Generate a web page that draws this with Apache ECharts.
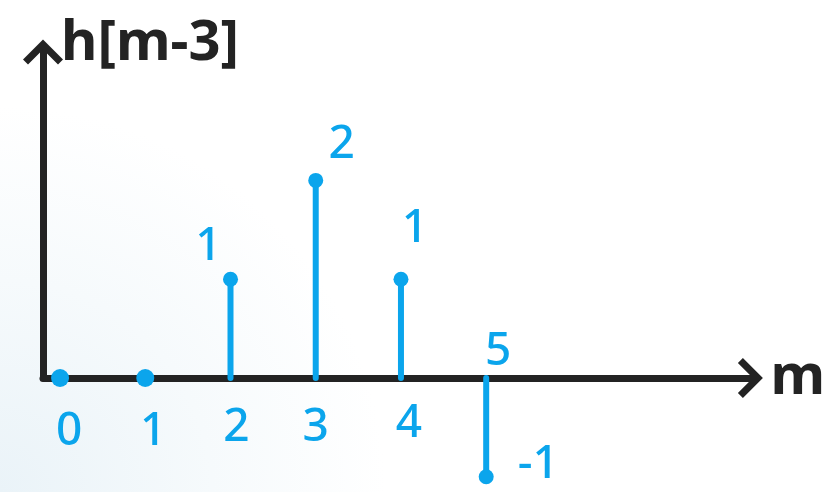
<!DOCTYPE html>
<html lang="en">
<head>
	<meta charset="UTF-8">
	<title>h[m-3]</title>
	<script src="https://cdn.jsdelivr.net/npm/echarts@6/dist/echarts.min.js"></script>
</head>
<style>
	html, body {
		margin: 0;
		padding: 0;
	}
	body {
		background: radial-gradient(circle at 0% 100%, #eaf3f8 0%, #f6fafc 22%, #ffffff 40%);
	}
	#main {
		width: 828px;
		height: 492px;
	}
</style>
<body>
	<div id="main"></div>
	<script>
		// stem plot data
		var mValues = [0, 1, 2, 3, 4, 5];
		var hValues = [0, 0, 1, 2, 1, -1];
		var tickLabels = ['0', '1', '2', '3', '4', '5'];
		var valueLabels = ['', '', '1', '2', '1', '-1'];

		var BLUE = '#0ba5ec';
		var INK = '#232323';
		var FONT = '"Noto Sans", sans-serif';

		// label nudges (pixels) per stem, value label then tick label
		var valueOffsets = [[0, 0], [0, 0], [-22, -32], [26, -36], [14, -50], [52, -12]];
		var tickOffsets = [[9, 54], [8, 54], [6, 50], [0, 50], [8, 46], [12, -26]];

		var chevron = 'path://M20,0 L40,20 L35,25 L20,10 L5,25 L0,20 Z';

		var myChart = echarts.init(document.getElementById('main'));

		function renderStem(params, api) {
			var i = params.dataIndex;
			var m = api.value(0);
			var v = api.value(1);
			var base = api.coord([m, 0]);
			var tip = api.coord([m, v]);
			var children = [];
			if (v !== 0) {
				children.push({
					type: 'line',
					shape: { x1: base[0], y1: base[1], x2: tip[0], y2: tip[1] },
					style: { stroke: BLUE, lineWidth: 6, lineCap: 'round' }
				});
			}
			children.push({
				type: 'circle',
				shape: { cx: tip[0], cy: tip[1], r: v === 0 ? 9 : 7.5 },
				style: { fill: BLUE }
			});
			if (valueLabels[i]) {
				children.push({
					type: 'text',
					style: {
						text: valueLabels[i],
						x: tip[0] + valueOffsets[i][0],
						y: tip[1] + valueOffsets[i][1],
						fill: BLUE,
						font: '500 46px ' + FONT,
						align: 'center',
						verticalAlign: 'middle'
					}
				});
			}
			children.push({
				type: 'text',
				style: {
					text: tickLabels[i],
					x: base[0] + tickOffsets[i][0],
					y: base[1] + tickOffsets[i][1],
					fill: BLUE,
					font: '500 46px ' + FONT,
					align: 'center',
					verticalAlign: 'middle'
				}
			});
			return { type: 'group', children: children };
		}

		var option = {
			animation: false,
			grid: {
				left: 43,
				right: 64,
				top: 52,
				bottom: 114
			},
			xAxis: {
				type: 'value',
				min: -0.2,
				max: 8.1,
				name: 'm',
				nameLocation: 'end',
				nameGap: 20,
				nameTextStyle: {
					color: INK,
					fontFamily: FONT,
					fontWeight: 'bold',
					fontSize: 56,
					verticalAlign: 'middle',
					padding: [0, 0, 12, 0]
				},
				axisLine: {
					onZero: false,
					symbol: ['none', chevron],
					symbolSize: [40, 25],
					lineStyle: { color: INK, width: 7, cap: 'round' }
				},
				axisTick: { show: false },
				axisLabel: { show: false },
				splitLine: { show: false }
			},
			yAxis: {
				type: 'value',
				min: 0,
				max: 3.3,
				name: 'h[m-3]',
				nameLocation: 'end',
				nameGap: 8,
				nameTextStyle: {
					color: INK,
					fontFamily: FONT,
					fontWeight: 'bold',
					fontSize: 56,
					align: 'left',
					verticalAlign: 'middle',
					padding: [0, 0, 0, 18]
				},
				axisLine: {
					show: true,
					onZero: false,
					symbol: ['none', chevron],
					symbolSize: [40, 25],
					lineStyle: { color: INK, width: 7, cap: 'round' }
				},
				axisTick: { show: false },
				axisLabel: { show: false },
				splitLine: { show: false }
			},
			series: [
				{
					name: 'h[m-3]',
					type: 'custom',
					clip: false,
					renderItem: renderStem,
					data: mValues.map(function (m, i) {
						return [m, hValues[i]];
					}),
					z: 5
				}
			]
		};
		myChart.setOption(option);
	</script>
</body>
</html>
